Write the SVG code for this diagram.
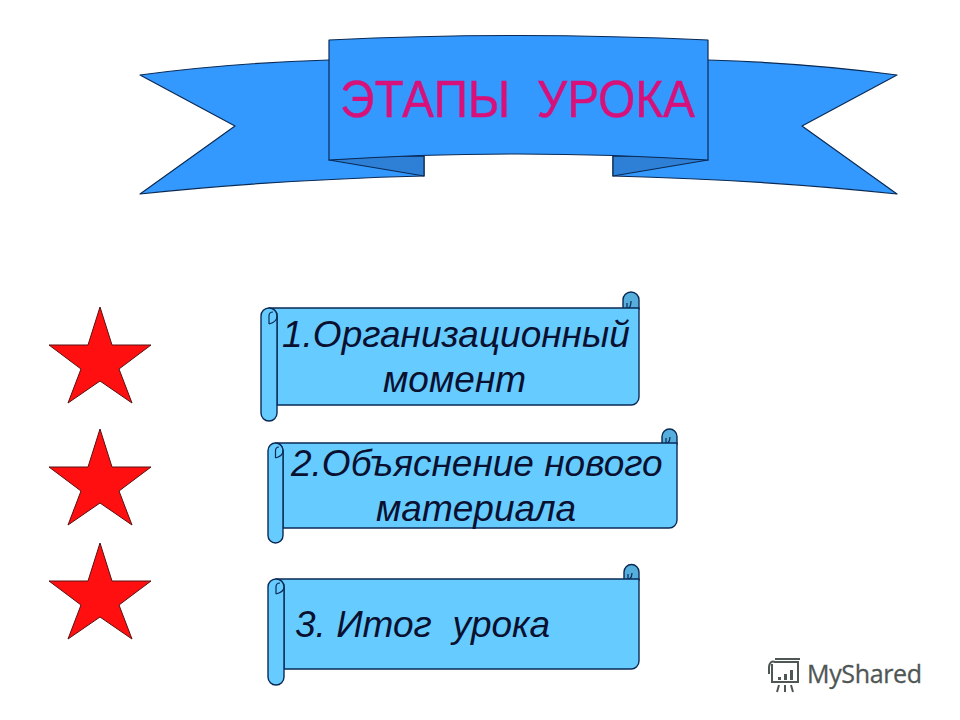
<svg xmlns="http://www.w3.org/2000/svg" width="960" height="720" viewBox="0 0 960 720">
<style>
.b{fill:#3399ff;stroke:#0a2a55;stroke-width:1.2;stroke-linejoin:round}
.f{fill:#2e7fd6;stroke:#0a2a55;stroke-width:1.2;stroke-linejoin:round}
.s{fill:#66ccff;stroke:#0a2a55;stroke-width:1.4;stroke-linejoin:round}
.c{fill:#55aedc;stroke:#0a2a55;stroke-width:1.4}
.n{fill:none;stroke:#0a2a55;stroke-width:1.2}
.star{fill:#ff0f0f;stroke:#5a1010;stroke-width:1;stroke-linejoin:miter}
.t{font-family:"Liberation Sans",Arial,sans-serif;font-style:italic;font-size:37px;fill:#0a1030;white-space:pre}
.l{fill:none;stroke:#4f5755;stroke-width:2}
</style>
<rect width="960" height="720" fill="#fff"/>
<g id="banner">
<path class="b" d="M140 75Q230 63 329 60L424 60V176Q270 180 140 194L235 126Z"/>
<path class="b" d="M897 75Q807 63 708 60L613 60V176Q767 180 897 194L802 126Z"/>
<path class="f" d="M329 160Q375 156 424 156V176Z"/>
<path class="f" d="M708 160Q662 156 613 156V176Z"/>
<path class="b" d="M329 40Q518 31 708 40V160Q518 148 329 160Z"/>
<text x="340" y="117" textLength="355" lengthAdjust="spacingAndGlyphs" style="font-family:'Liberation Sans',Arial,sans-serif;font-size:52px;fill:#d8107a;stroke:#d8107a;stroke-width:0.4;white-space:pre">ЭТАПЫ  УРОКА</text>
</g>
<g id="star1"><path class="star" d="M100 307L112 345H151L119 369L132 403L100 381L68 403L81 369L49 345H88Z"/></g>
<g id="star2"><path class="star" d="M100 429L112 467H151L119 491L132 525L100 503L68 525L81 491L49 467H88Z"/></g>
<g id="star3"><path class="star" d="M100 543L112 581H151L119 605L132 639L100 617L68 639L81 605L49 581H88Z"/></g>
<g id="scroll1">
<path class="c" d="M623 309V300A8 8 0 0 1 639 300V309Z"/>
<path class="n" d="M623 309Q631 311 631 301M627 303V309"/>
<path class="s" d="M269 308H639V397A8 8 0 0 1 631 405H277V316A8 8 0 0 0 269 308Z"/>
<path class="s" d="M261 316A8 8 0 0 1 277 316V413A8 8 0 0 1 261 413Z"/>
<path class="n" d="M269 324Q277 322 277 316M269 324V316Q269 312 273 312"/>
<text class="t" x="282" y="347">1.Организационный</text>
<text class="t" x="383" y="392">момент</text>
</g>
<g id="scroll2">
<path class="c" d="M662 444V436.500A7.500 7.500 0 0 1 677 436.500V444Z"/>
<path class="n" d="M662 444Q670 445 670 437M666 438V444"/>
<path class="s" d="M275.500 443H677V520A8 8 0 0 1 669 528H283V450.500A7.500 7.500 0 0 0 275.500 443Z"/>
<path class="s" d="M268 450.500A7.500 7.500 0 0 1 283 450.500V535.500A7.500 7.500 0 0 1 268 535.500Z"/>
<path class="n" d="M275.500 458Q283 456 283 450.500M275.500 458V451Q275.500 447 279 447"/>
<text class="t" x="291" y="476">2.Объяснение нового</text>
<text class="t" x="376" y="521">материала</text>
</g>
<g id="scroll3">
<path class="c" d="M624 580V572A7.500 7.500 0 0 1 639 572V580Z"/>
<path class="n" d="M624 580Q632 581 632 573M628 574V580"/>
<path class="s" d="M276 579H639V661A8 8 0 0 1 631 669H284V587A8 8 0 0 0 276 579Z"/>
<path class="s" d="M268 587A8 8 0 0 1 284 587V677A8 8 0 0 1 268 677Z"/>
<path class="n" d="M276 594Q284 592 284 587M276 594V587Q276 583 280 583"/>
<text class="t" x="295" y="637" xml:space="preserve">3. Итог  урока</text>
</g>
<g id="logo">
<path class="l" d="M772 664V682H798V662H775Q770 660 769 667V674M775 659H800"/>
<path d="M778 677h3v3h-3zM784 674h3v6h-3zM790 670h3v10h-3z" fill="#4f5755"/>
<path class="l" d="M779 685L777 692M785 685V692M791 685L793 692"/>
<text x="807" y="683" textLength="115" style="font-family:'Open Sans','Liberation Sans',sans-serif;font-size:25px;fill:#4f5755;stroke:#4f5755;stroke-width:0.3">MyShared</text>
</g>
</svg>
